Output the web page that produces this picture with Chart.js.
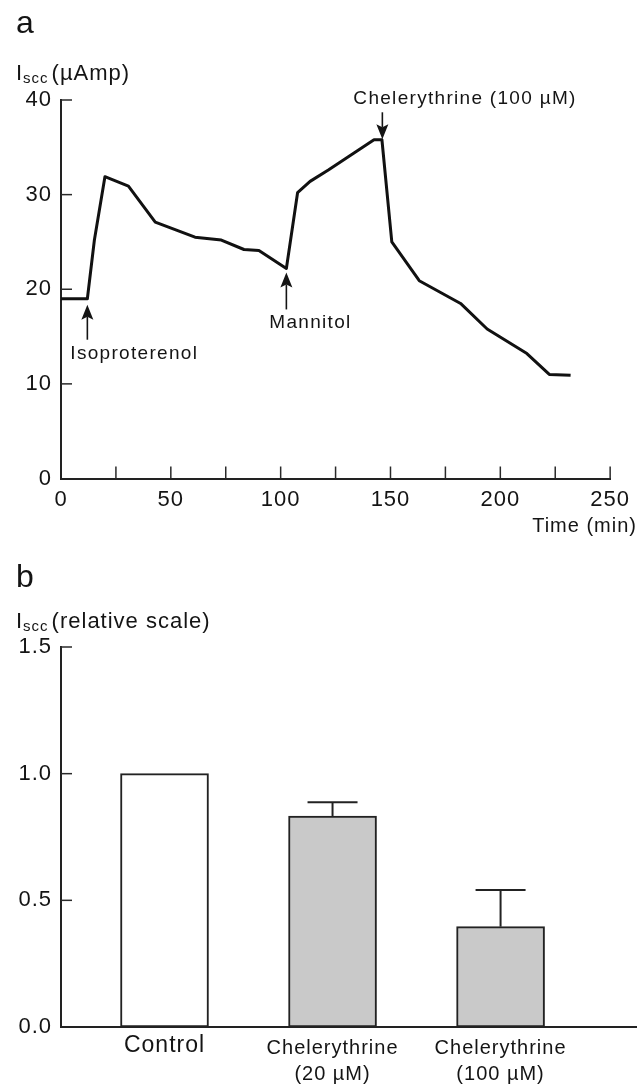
<!DOCTYPE html>
<html>
<head>
<meta charset="utf-8">
<script src="https://cdn.jsdelivr.net/npm/chart.js@4.4.1/dist/chart.umd.min.js"></script>
<style>
  html, body { margin: 0; padding: 0; background: #fff; }
  #wrap { position: relative; width: 638px; height: 1086px; overflow: hidden; }
  .box { position: absolute; left: 0; width: 638px; }
  #boxA { top: 0; height: 545px; }
  #boxB { top: 545px; height: 541px; }
</style>
</head>
<body>
<div id="wrap">
  <div class="box" id="boxA"><canvas id="chartA"></canvas></div>
  <div class="box" id="boxB"><canvas id="chartB"></canvas></div>
</div>
<script>
// ---- Panel a: short-circuit current over time ----
const timeMin  = [0, 12, 15.2, 20, 30.7, 42.9, 61, 73, 83.3, 90.1, 102.6, 107.7, 113.4, 121.7, 142.5, 146.1, 150.6, 163.1, 181.9, 194, 212.1, 222.3, 232];
const isccAmp  = [19, 19, 25.2, 31.9, 30.9, 27.1, 25.5, 25.2, 24.2, 24.1, 22.2, 30.2, 31.4, 32.6, 35.8, 35.8, 25.0, 20.9, 18.5, 15.8, 13.2, 11.0, 10.9];
const timeTicks = [0, 50, 100, 150, 200, 250];
const ampTicks  = [0, 10, 20, 30, 40];
const additionNames = ['Isoproterenol', 'Mannitol', 'Chelerythrine (100 µM)'];
const additionTimes = [12, 102.6, 146.3];

// ---- Panel b: relative Iscc after chelerythrine ----
const groupLabels = [['Control'], ['Chelerythrine', '(20 µM)'], ['Chelerythrine', '(100 µM)']];
const relIscc = [1.0, 0.833, 0.396];
const relSem  = [0, 0.054, 0.145];
const relTicks = [0, 0.5, 1.0, 1.5];

const FAMILY = '"Liberation Sans", Arial, Helvetica, sans-serif';
const INK = '#141414';

function text(ctx, s, x, y, size, align, spacing) {
  ctx.font = size + 'px ' + FAMILY;
  ctx.letterSpacing = (spacing === undefined ? 1 : spacing) + 'px';
  ctx.textAlign = align || 'left';
  ctx.textBaseline = 'alphabetic';
  ctx.fillStyle = INK;
  ctx.fillText(s, x, y);
}

// "I" with a subscript "scc" followed by the unit text
function isccTitle(ctx, x, baseline, rest) {
  ctx.save();
  ctx.textAlign = 'left';
  ctx.textBaseline = 'alphabetic';
  ctx.fillStyle = INK;
  ctx.letterSpacing = '1px';
  ctx.font = '22px ' + FAMILY;
  ctx.fillText('I', x, baseline);
  let cx = x + ctx.measureText('I').width;
  ctx.font = '15px ' + FAMILY;
  ctx.fillText('scc', cx, baseline + 3);
  cx += ctx.measureText('scc').width + 3;
  ctx.font = '22px ' + FAMILY;
  ctx.fillText(rest, cx, baseline);
  ctx.restore();
}

function seg(ctx, x1, y1, x2, y2) {
  ctx.beginPath(); ctx.moveTo(x1, y1); ctx.lineTo(x2, y2); ctx.stroke();
}

function arrow(ctx, x, yTail, yTip) {
  const dir = yTip > yTail ? 1 : -1;
  const head = 15, half = 6;
  ctx.lineWidth = 1.6;
  seg(ctx, x, yTail, x, yTip - dir * (head - 3));
  ctx.beginPath();
  ctx.moveTo(x, yTip);
  ctx.lineTo(x - half, yTip - dir * head);
  ctx.lineTo(x, yTip - dir * (head - 3));
  ctx.lineTo(x + half, yTip - dir * head);
  ctx.closePath();
  ctx.fill();
}

function traceAt(t) {
  for (let i = 1; i < timeMin.length; i++) {
    if (t <= timeMin[i]) {
      const f = (t - timeMin[i - 1]) / (timeMin[i] - timeMin[i - 1]);
      return isccAmp[i - 1] + f * (isccAmp[i] - isccAmp[i - 1]);
    }
  }
  return isccAmp[isccAmp.length - 1];
}

const spacingPlugin = {
  id: 'spacing',
  beforeUpdate(c) { c.ctx.letterSpacing = '1px'; },
  beforeLayout(c) { c.ctx.letterSpacing = '1px'; },
  beforeDraw(c) { c.ctx.letterSpacing = '1px'; }
};

const traceDecor = {
  id: 'traceDecor',
  afterDraw(chart) {
    const { ctx, scales: { x, y } } = chart;
    ctx.save();
    ctx.strokeStyle = '#2a2a2a';
    ctx.fillStyle = INK;
    ctx.lineWidth = 1.5;
    // inward tick marks
    ampTicks.forEach(v => {
      if (v === 0) return;
      const py = y.getPixelForValue(v);
      seg(ctx, x.left, py, x.left + 11, py);
    });
    for (let t = 25; t <= 250; t += 25) {
      const px = x.getPixelForValue(t);
      seg(ctx, px, y.bottom, px, y.bottom - 12);
    }
    // panel letter, axis titles
    text(ctx, 'a', 16, 33, 32, 'left', 0);
    isccTitle(ctx, 16, 80, '(µAmp)');
    text(ctx, 'Time (min)', 637, 532, 20, 'right', 1);

    // additions: arrows and labels
    ctx.strokeStyle = INK;
    additionTimes.forEach((t, i) => {
      const px = x.getPixelForValue(t);
      const py = y.getPixelForValue(traceAt(t));
      if (i < 2) {
        const tip = py + (i === 0 ? 6 : 4);
        const tail = tip + (i === 0 ? 35 : 37);
        arrow(ctx, px, tail, tip);
        text(ctx, additionNames[i], px - 17, tail + 19, 19, 'left', 1.3);
      } else {
        const tip = py - 5;
        const tail = tip - 27;
        arrow(ctx, px, tail, tip);
        text(ctx, additionNames[i], px - 29, tail - 8, 19, 'left', 1.3);
      }
    });
    ctx.restore();
  }
};

const barDecor = {
  id: 'barDecor',
  afterDatasetsDraw(chart) {
    const { ctx, scales: { x, y } } = chart;
    ctx.save();
    ctx.strokeStyle = '#222';
    ctx.lineWidth = 2;
    relIscc.forEach((v, i) => {
      if (!relSem[i]) return;
      const px = x.getPixelForValue(i);
      const top = y.getPixelForValue(v + relSem[i]);
      seg(ctx, px, y.getPixelForValue(v), px, top);
      seg(ctx, px - 25, top, px + 25, top);
    });
    ctx.restore();
  },
  afterDraw(chart) {
    const { ctx, scales: { x, y } } = chart;
    ctx.save();
    ctx.strokeStyle = '#2a2a2a';
    ctx.lineWidth = 1.5;
    relTicks.forEach(v => {
      if (v === 0) return;
      const py = y.getPixelForValue(v);
      seg(ctx, x.left, py, x.left + 11, py);
    });
    text(ctx, 'b', 16, 42, 32, 'left', 0);
    isccTitle(ctx, 16, 83, '(relative scale)');
    ctx.restore();
  }
};

const axisBorder = { color: '#222', width: 2 };
const tickFont = { family: FAMILY, size: 22 };

new Chart(document.getElementById('chartA'), {
  type: 'line',
  data: {
    datasets: [{
      data: timeMin.map((t, i) => ({ x: t, y: isccAmp[i] })),
      borderColor: '#111',
      borderWidth: 3,
      pointRadius: 0,
      tension: 0,
      fill: false,
      borderJoinStyle: 'round'
    }]
  },
  options: {
    animation: false,
    responsive: true,
    maintainAspectRatio: false,
    layout: { padding: { top: 100, right: 24, left: 0, bottom: 0 } },
    plugins: { legend: { display: false }, tooltip: { enabled: false } },
    scales: {
      x: {
        type: 'linear', min: 0, max: 250, offset: false,
        afterBuildTicks: s => { s.ticks = timeTicks.map(v => ({ value: v })); },
        afterFit: s => { s.height = 66.5; },
        grid: { display: false, drawTicks: false },
        border: axisBorder,
        ticks: { font: tickFont, color: INK, padding: 8, maxRotation: 0, autoSkip: false }
      },
      y: {
        min: 0, max: 40,
        afterBuildTicks: s => { s.ticks = ampTicks.map(v => ({ value: v })); },
        afterFit: s => { s.width = 61; },
        grid: { display: false, drawTicks: false },
        border: axisBorder,
        ticks: { font: tickFont, color: INK, padding: 9 }
      }
    }
  },
  plugins: [spacingPlugin, traceDecor]
});

new Chart(document.getElementById('chartB'), {
  type: 'bar',
  data: {
    datasets: [{
      data: relIscc.map((v, i) => ({ x: i, y: v })),
      backgroundColor: ['#ffffff', '#c9c9c9', '#c9c9c9'],
      borderColor: '#222',
      borderWidth: 2,
      borderSkipped: false,
      barThickness: 88
    }]
  },
  options: {
    animation: false,
    responsive: true,
    maintainAspectRatio: false,
    layout: { padding: { top: 102, right: 2, left: 0, bottom: 0 } },
    plugins: { legend: { display: false }, tooltip: { enabled: false } },
    scales: {
      x: {
        type: 'linear', min: -0.616, max: 2.806, offset: false,
        afterBuildTicks: s => { s.ticks = groupLabels.map((g, i) => ({ value: i })); },
        afterFit: s => { s.height = 59; },
        grid: { display: false, drawTicks: false },
        border: axisBorder,
        ticks: {
          callback: v => groupLabels[Math.round(v)],
          font: c => c.index === 0
            ? { family: FAMILY, size: 23, lineHeight: 0.92 }
            : { family: FAMILY, size: 20, lineHeight: 1.3 },
          color: INK, padding: 8, maxRotation: 0, autoSkip: false
        }
      },
      y: {
        min: 0, max: 1.5,
        afterBuildTicks: s => { s.ticks = relTicks.map(v => ({ value: v })); },
        afterFit: s => { s.width = 61; },
        grid: { display: false, drawTicks: false },
        border: axisBorder,
        ticks: { font: tickFont, color: INK, padding: 9, callback: v => Number(v).toFixed(1) }
      }
    }
  },
  plugins: [spacingPlugin, barDecor]
});
</script>
</body>
</html>
